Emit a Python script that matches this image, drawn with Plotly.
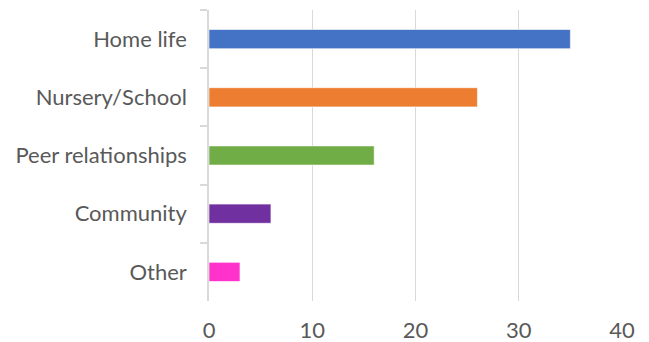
import plotly.graph_objects as go

categories = ["Home life", "Nursery/School", "Peer relationships", "Community", "Other"]
values = [35, 26, 16, 6, 3]
colors = ["#4472C4", "#ED7D31", "#70AD47", "#7030A0", "#FF33CC"]
x_ticks = [0, 10, 20, 30, 40]

fig = go.Figure(go.Bar(
    y=categories, x=values, orientation="h",
    marker=dict(color=colors, line=dict(color="rgba(255,255,255,0.6)", width=1)),
))

font = dict(family="Lato, Open Sans, sans-serif", size=22, color="#595959")
fig.update_layout(
    width=649, height=342,
    margin=dict(l=201, r=35, t=2, b=49, autoexpand=False),
    paper_bgcolor="white", plot_bgcolor="white",
    bargap=0.67, showlegend=False, font=font,
)
fig.update_xaxes(
    range=[0, 40], tickvals=x_ticks, showgrid=True, gridcolor="#d9d9d9", gridwidth=1.3,
    zeroline=False, showline=False, ticks="", ticklabelstandoff=14, tickfont=font,
    automargin=False,
)
fig.update_yaxes(
    autorange="reversed", showgrid=False, showline=True, linecolor="#d9d9d9", linewidth=1.5,
    ticks="outside", tickson="boundaries", ticklen=7, tickcolor="#d9d9d9", tickwidth=1.5,
    ticklabelstandoff=16, tickfont=font, automargin=False,
)
fig.write_html("out.html")
